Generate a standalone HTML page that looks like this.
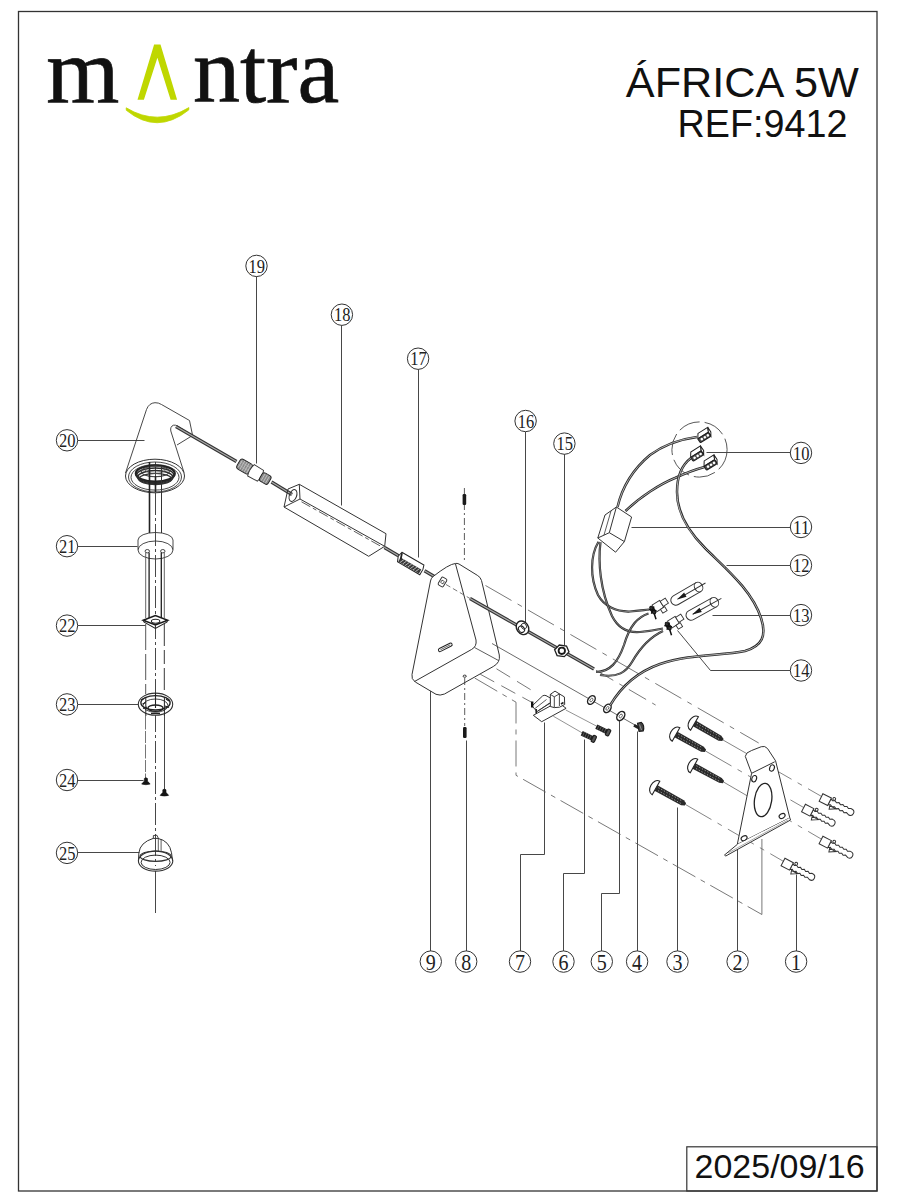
<!DOCTYPE html>
<html><head><meta charset="utf-8"><style>
html,body{margin:0;padding:0;background:#fff;width:900px;height:1200px;overflow:hidden;}
svg{position:absolute;left:0;top:0;}
</style></head><body>
<svg width="900" height="1200" viewBox="0 0 900 1200">
<rect x="18.5" y="11.5" width="858.5" height="1179.5" fill="none" stroke="#333" stroke-width="1.3"/>
<rect x="686.8" y="1146.8" width="190.2" height="44.2" fill="none" stroke="#333" stroke-width="1.2"/>
<text x="694.6" y="1177.8" font-family="Liberation Sans, sans-serif" font-size="34" fill="#111" textLength="170" lengthAdjust="spacingAndGlyphs">2025/09/16</text>
<text x="625.8" y="97" font-family="Liberation Sans, sans-serif" font-size="42.5" fill="#111" textLength="233" lengthAdjust="spacingAndGlyphs">ÁFRICA 5W</text>
<text x="677.5" y="136.5" font-family="Liberation Sans, sans-serif" font-size="38" fill="#111" textLength="170" lengthAdjust="spacingAndGlyphs">REF:9412</text>
<text x="46.2" y="102.2" font-family="Liberation Serif, serif" font-size="94" fill="#111" stroke="#111" stroke-width="0.7">m</text>
<text x="193" y="102.2" font-family="Liberation Serif, serif" font-size="94" fill="#111" stroke="#111" stroke-width="0.7">ntra</text>
<path d="M137.5 99.8 L154.1 44.6 L160.5 44.6 L177.1 99.8 L170.6 99.8 L157.4 57.7 L143.9 99.8 Z" fill="#bfd700"/>
<path d="M126.3 110.3 Q157 135.3 188.7 110 L188.9 107.6 Q157 126.6 126.2 107.8 Z" fill="#bfd700" stroke="#bfd700" stroke-width="0.8"/>
<path d="M77.5 440.5 L144.5 440.5" fill="none" stroke="#333" stroke-width="0.9"/>
<path d="M77.5 546.5 L137.5 546.5" fill="none" stroke="#333" stroke-width="0.9"/>
<path d="M77.5 625.5 L145.5 625.5" fill="none" stroke="#333" stroke-width="0.9"/>
<path d="M77.5 704.5 L138.5 704.5" fill="none" stroke="#333" stroke-width="0.9"/>
<path d="M77.5 780.5 L143.5 780.5" fill="none" stroke="#333" stroke-width="0.9"/>
<path d="M77.5 852.5 L139.5 852.5" fill="none" stroke="#333" stroke-width="0.9"/>
<path d="M256.5 275.5 L256.5 463.5" fill="none" stroke="#333" stroke-width="0.9"/>
<path d="M341.5 324.5 L341.5 505.5" fill="none" stroke="#333" stroke-width="0.9"/>
<path d="M418.5 368.5 L418.5 557.5" fill="none" stroke="#333" stroke-width="0.9"/>
<path d="M525.5 431.5 L525.5 622.5" fill="none" stroke="#333" stroke-width="0.9"/>
<path d="M564.5 453.5 L564.5 645.5" fill="none" stroke="#333" stroke-width="0.9"/>
<path d="M706.5 452.5 L791.5 452.5" fill="none" stroke="#333" stroke-width="0.9"/>
<path d="M631.5 527.5 L791.5 527.5" fill="none" stroke="#333" stroke-width="0.9"/>
<path d="M726.5 565.5 L791.5 565.5" fill="none" stroke="#333" stroke-width="0.9"/>
<path d="M712.5 615.5 L791.5 615.5" fill="none" stroke="#333" stroke-width="0.9"/>
<path d="M677.5 630.5 L710.5 670.5 L791.5 670.5" fill="none" stroke="#333" stroke-width="0.9"/>
<path d="M430.5 685.5 L430.5 951.5" fill="none" stroke="#333" stroke-width="0.9"/>
<path d="M466.5 740.5 L466.5 951.5" fill="none" stroke="#333" stroke-width="0.9"/>
<path d="M544.5 722.5 L544.5 854.5 L520.5 854.5 L520.5 951.5" fill="none" stroke="#333" stroke-width="0.9"/>
<path d="M584.5 739.5 L584.5 873.5 L563.5 873.5 L563.5 951.5" fill="none" stroke="#333" stroke-width="0.9"/>
<path d="M619.5 719.5 L619.5 893.5 L601.5 893.5 L601.5 951.5" fill="none" stroke="#333" stroke-width="0.9"/>
<path d="M637.5 731.5 L637.5 951.5" fill="none" stroke="#333" stroke-width="0.9"/>
<path d="M677.5 807.5 L677.5 951.5" fill="none" stroke="#333" stroke-width="0.9"/>
<path d="M737.5 847.5 L737.5 951.5" fill="none" stroke="#333" stroke-width="0.9"/>
<path d="M796.5 874.5 L796.5 951.5" fill="none" stroke="#333" stroke-width="0.9"/>
<path d="M155.5 462 L155.5 866" fill="none" stroke="#333" stroke-width="0.9" stroke-dasharray="22 3 3 3"/>
<path d="M155.5 871 L155.5 913" fill="none" stroke="#333" stroke-width="0.9"/>
<path d="M125.5 473 L146.5 409.5 Q149 403 155 402.7 Q158.5 402.6 161.5 404.5 L189.5 420.5 L192.5 435" fill="none" stroke="#333" stroke-width="0.9"/>
<path d="M184 472.5 L170.8 431 Q170 426.5 173.5 425.2 Q175.5 424.8 177.5 426 L192.5 435.5" fill="none" stroke="#333" stroke-width="0.9"/>
<path d="M177 445 L192.5 435.5" fill="none" stroke="#333" stroke-width="0.9"/>
<ellipse cx="155" cy="476" rx="29.5" ry="16.8" fill="none" stroke="#333" stroke-width="1"/>
<ellipse cx="155" cy="477" rx="26.5" ry="15" fill="none" stroke="#333" stroke-width="0.9"/>
<ellipse cx="155" cy="477.3" rx="24" ry="12.8" fill="none" stroke="#333" stroke-width="0.9"/>
<ellipse cx="155.3" cy="473.5" rx="19.5" ry="8" fill="none" stroke="#222" stroke-width="2.2"/>
<ellipse cx="155.3" cy="475.3" rx="18.6" ry="7.4" fill="none" stroke="#2a2a2a" stroke-width="1.5"/>
<ellipse cx="155.3" cy="477.2" rx="17.6" ry="6.6" fill="none" stroke="#2a2a2a" stroke-width="1.5"/>
<ellipse cx="155.3" cy="479" rx="16.4" ry="5.6" fill="none" stroke="#333" stroke-width="1.3"/>
<ellipse cx="155.3" cy="471.5" rx="14" ry="5.2" fill="none" stroke="#444" stroke-width="1.1"/>
<ellipse cx="155.3" cy="469.8" rx="10" ry="3.6" fill="none" stroke="#555" stroke-width="0.9"/>
<path d="M149.5 462 L149.5 533" fill="none" stroke="#222" stroke-width="1.6"/>
<path d="M161.5 466 L161.5 533" fill="none" stroke="#333" stroke-width="1"/>
<path d="M155.5 476 L155.5 492" fill="none" stroke="#222" stroke-width="1.6"/>
<path d="M138 540 A17.5 7.5 0 0 1 173 540 L173 549.5 M138 540 L138 549.5" fill="none" stroke="#333" stroke-width="0.9"/>
<ellipse cx="155.5" cy="550" rx="17.5" ry="9" fill="none" stroke="#333" stroke-width="0.9"/>
<ellipse cx="147.3" cy="551.2" rx="2.2" ry="1.7" fill="none" stroke="#333" stroke-width="0.9"/>
<ellipse cx="162.8" cy="551.2" rx="2.2" ry="1.7" fill="none" stroke="#333" stroke-width="0.9"/>
<path d="M145.7 552.5 L145.7 618" fill="none" stroke="#555" stroke-width="0.9"/>
<path d="M149.1 552.5 L149.1 618" fill="none" stroke="#1e1e1e" stroke-width="1.3"/>
<path d="M161.3 552.5 L161.3 618" fill="none" stroke="#1e1e1e" stroke-width="1.3"/>
<path d="M164.3 552.5 L164.3 618" fill="none" stroke="#555" stroke-width="0.9"/>
<path d="M143.2 620.2 L155.4 615.6 L167.7 620.2 L155.4 625 Z" fill="#fff" stroke="#1a1a1a" stroke-width="1.5"/>
<path d="M143.2 620.2 L144.2 622.2 L155.4 628.4 L166.8 622.2 L167.7 620.2" fill="none" stroke="#222" stroke-width="1.1"/>
<path d="M155.4 625 L155.4 628.4" fill="none" stroke="#333" stroke-width="0.9"/>
<ellipse cx="155.6" cy="621.3" rx="4.2" ry="2" fill="none" stroke="#222" stroke-width="1.1"/>
<path d="M145.7 624 L145.7 694" fill="none" stroke="#444" stroke-width="0.9" stroke-dasharray="26 4"/>
<path d="M164.3 624 L164.3 694" fill="none" stroke="#222" stroke-width="0.9" stroke-dasharray="22 4 14 4"/>
<ellipse cx="155.5" cy="704.2" rx="17.2" ry="11.1" fill="#fff" stroke="#333" stroke-width="1.1"/>
<ellipse cx="155.5" cy="702.8" rx="14.6" ry="7.2" fill="none" stroke="#222" stroke-width="1.4"/>
<ellipse cx="155.5" cy="705.6" rx="12.5" ry="6.6" fill="none" stroke="#333" stroke-width="0.9"/>
<ellipse cx="155.5" cy="708.2" rx="7.6" ry="3.2" fill="none" stroke="#222" stroke-width="1.4"/>
<path d="M141 700 L144 698.5 M142.5 704 L146 702.5 M143 708.5 L147 707 M166 699 L169 701 M165 706 L169 707.5 M151 713.5 L160 713.5" fill="none" stroke="#222" stroke-width="1.3"/>
<path d="M145.8 697 L145.8 716" fill="none" stroke="#222" stroke-width="1"/>
<path d="M164.4 697 L164.4 716" fill="none" stroke="#222" stroke-width="1"/>
<path d="M155.5 693 L155.5 708" fill="none" stroke="#222" stroke-width="1.1"/>
<path d="M145.5 715.5 L145.5 779" fill="none" stroke="#666" stroke-width="0.9" stroke-dasharray="14 1.5 12 1.5"/>
<path d="M164.5 715.5 L164.5 789" fill="none" stroke="#333" stroke-width="0.9"/>
<path d="M141.70000000000002 784.1 Q145.9 785.3 150.1 784.1 L148.9 782.5 L147.5 781.3 L147.5 778.5 Q145.9 776.9 144.3 778.5 L144.3 781.3 L142.9 782.5 Z" fill="#151515" stroke="#111" stroke-width="0.6"/>
<path d="M160.20000000000002 795.4 Q164.4 796.5999999999999 168.6 795.4 L167.4 793.8 L166.0 792.5999999999999 L166.0 789.8 Q164.4 788.1999999999999 162.8 789.8 L162.8 792.5999999999999 L161.4 793.8 Z" fill="#151515" stroke="#111" stroke-width="0.6"/>
<ellipse cx="155.6" cy="861.1" rx="17.2" ry="10" fill="none" stroke="#333" stroke-width="1.1"/>
<ellipse cx="155.6" cy="862.3" rx="14.5" ry="7.2" fill="none" stroke="#333" stroke-width="1"/>
<path d="M138.4 861 L138.9 852.8 Q140 842.5 153.2 838.4 L158 838.4 Q169.5 841 171.5 852.8 L172.6 861" fill="none" stroke="#333" stroke-width="1"/>
<path d="M153.3 838.6 L153.4 835.5 L157 835.3 L158.4 838.4" fill="none" stroke="#333" stroke-width="0.9"/>
<path d="M158.3 838.5 L158.3 851.5" fill="none" stroke="#333" stroke-width="0.8"/>
<path d="M161.1 839 L161.1 851.5" fill="none" stroke="#333" stroke-width="0.8"/>
<ellipse cx="155.6" cy="856.2" rx="15.5" ry="5.2" fill="none" stroke="#333" stroke-width="1.2"/>
<path d="M176 426.5 L236.5 461.5" fill="none" stroke="#333" stroke-width="3.4"/>
<path d="M176 426.5 L236.5 461.5" fill="none" stroke="#aaa" stroke-width="1.1999999999999997"/>
<path d="M271.5 482 L292 494.5" fill="none" stroke="#333" stroke-width="3.4"/>
<path d="M271.5 482 L292 494.5" fill="none" stroke="#aaa" stroke-width="1.1999999999999997"/>
<g transform="translate(254 472) rotate(30.22)" fill="none" stroke="#333" stroke-width="0.9"><rect x="-18" y="-5.6" width="14.5" height="11.2" rx="3" fill="#8a8a8a" stroke="#222"/><path d="M-16 -4 L-16 4 M-13.5 -5 L-13.5 5 M-11 -5 L-11 5 M-8.5 -5 L-8.5 5 M-6 -5 L-6 5" stroke="#ddd" stroke-width="0.6"/><path d="M-17 -2 L-4 -2 M-17 1.5 L-4 1.5" stroke="#bbb" stroke-width="0.5"/><path d="M-3.5 -6.6 L7.5 -6.2 Q9.8 0 7.5 6.2 L-3.5 6.6 Q-5.8 0 -3.5 -6.6 Z" fill="#fff"/><rect x="8" y="-4.8" width="10" height="9.6" rx="2.5" fill="#8a8a8a" stroke="#222"/><path d="M10.5 -4 L10.5 4 M13 -4.5 L13 4.5 M15.5 -4 L15.5 4" stroke="#ddd" stroke-width="0.6"/></g>
<path d="M288 489 L299.3 484.3 L300 499 L284 507 Z" fill="none" stroke="#333" stroke-width="1"/>
<path d="M299.3 484.3 L386 533.7 L384.7 546.3 L368.7 556.3 L284 507" fill="none" stroke="#333" stroke-width="1"/>
<path d="M300 499 L384.7 546.3" fill="none" stroke="#333" stroke-width="1"/>
<path d="M301.5 501.8 L383 547.5" fill="none" stroke="#333" stroke-width="0.8" stroke-dasharray="10 3 4 3"/>
<ellipse cx="293" cy="495.5" rx="3.6" ry="6.2" fill="none" stroke="#333" stroke-width="1" transform="rotate(20 293 495.5)"/>
<path d="M384.5 547.5 L398.5 555.7" fill="none" stroke="#333" stroke-width="3.4"/>
<path d="M384.5 547.5 L398.5 555.7" fill="none" stroke="#aaa" stroke-width="1.1999999999999997"/>
<g transform="translate(410.5 563.3) rotate(30.22)" fill="none" stroke="#222" stroke-width="1"><path d="M-13 -5.2 L12.5 -5.2 L13.8 -1 L13.8 5.2 L-12 5.2 L-14.2 0 Z" fill="#fff"/><path d="M-11.5 0 L12.5 0 L12.5 4.6 L-11.5 4.6 Z" fill="#3a3a3a" stroke="none"/><path d="M-9.5 4.6 L-7.5 0 M-6.5 4.6 L-4.5 0 M-3.5 4.6 L-1.5 0 M-0.5 4.6 L1.5 0 M2.5 4.6 L4.5 0 M5.5 4.6 L7.5 0 M8.5 4.6 L10.5 0" stroke="#c8c8c8" stroke-width="0.8"/><path d="M-12.5 -4.5 L-10.5 1.5" stroke-width="1.8"/></g>
<path d="M424.5 570.8 L436 577.5" fill="none" stroke="#333" stroke-width="3.4"/>
<path d="M424.5 570.8 L436 577.5" fill="none" stroke="#aaa" stroke-width="1.1999999999999997"/>
<path d="M455.3 563.5 Q449 564 432.5 577 Q431 578.5 430.5 581 L412 674.5 Q411 679 415.3 682 L436 694.3 Q440 696 444.5 694 L493.3 666.5 Q500.5 662.5 499.3 655 L481.5 580.5 Q480.5 577 477.3 575.3 L459 564 Q457 563 455.3 563.5 Z" fill="#fff" stroke="#333" stroke-width="1"/>
<path d="M455.5 564 L476 640 Q477 646.5 471.5 649.5 L414.5 681.5" fill="none" stroke="#333" stroke-width="1"/>
<path d="M474.5 647.5 L498.5 660.5" fill="none" stroke="#333" stroke-width="0.8"/>
<g transform="translate(445.3 647.3) rotate(-27)"><rect x="-7.5" y="-1.6" width="15" height="3.2" rx="1.6" fill="#fff" stroke="#222" stroke-width="1"/><line x1="-5.5" y1="0" x2="5.5" y2="0" stroke="#555" stroke-width="0.8"/></g>
<ellipse cx="464.7" cy="676.2" rx="1.6" ry="1.1" fill="none" stroke="#222" stroke-width="0.9"/>
<path d="M446 584.5 L470 598.5" fill="none" stroke="#555" stroke-width="0.8" stroke-dasharray="5 3"/>
<g transform="translate(442.5 582) rotate(30.22)"><rect x="-3" y="-4.5" width="6" height="9" rx="1.5" fill="#fff" stroke="#333" stroke-width="1"/><circle cx="0" cy="0" r="1.6" fill="none" stroke="#333" stroke-width="0.8"/></g>
<path d="M464.4 488 L464.4 563" fill="none" stroke="#333" stroke-width="0.8" stroke-dasharray="7 3 2 3"/>
<rect x="462.6" y="494" width="3.6" height="11" rx="1.2" fill="#1a1a1a"/>
<path d="M464.7 678 L464.7 726" fill="none" stroke="#333" stroke-width="0.8" stroke-dasharray="7 3 2 3"/>
<rect x="463" y="727" width="3.6" height="11" rx="1.2" fill="#1a1a1a"/>
<path d="M470 598.5 L594 669" fill="none" stroke="#333" stroke-width="3.4"/>
<path d="M470 598.5 L594 669" fill="none" stroke="#aaa" stroke-width="1.1999999999999997"/>
<ellipse cx="522.5" cy="627.8" rx="5.8" ry="7.2" fill="#fff" stroke="#222" stroke-width="1.4" transform="rotate(-35 522.5 627.8)"/>
<ellipse cx="521.5" cy="629.2" rx="2.8" ry="3.4" fill="none" stroke="#222" stroke-width="1.1" transform="rotate(-35 521.5 629.2)"/>
<ellipse cx="523.8" cy="626.2" rx="2.6" ry="3" fill="none" stroke="#333" stroke-width="0.9" transform="rotate(-35 523.8 626.2)"/>
<path d="M569 651.9 L564.3 656.6 L557.1 655.6 L554.6 649.7 L559.3 645 L566.5 646 Z" fill="#fff" stroke="#222" stroke-width="1.3"/>
<ellipse cx="561.8" cy="650.8" rx="3.2" ry="3.2" fill="none" stroke="#1a1a1a" stroke-width="1.8"/>
<path d="M485.5 585.5 L758.7 743" fill="none" stroke="#555" stroke-width="0.8" stroke-dasharray="30 7 5 7"/>
<path d="M596 670.3 L660 707.6" fill="none" stroke="#555" stroke-width="0.8" stroke-dasharray="20 7 4 7"/>
<path d="M492 643.5 L639 727.3" fill="none" stroke="#444" stroke-width="0.8"/>
<path d="M496.5 668.8 L534.6 692.1" fill="none" stroke="#555" stroke-width="0.8" stroke-dasharray="16 8"/>
<path d="M480.2 674.2 L531.5 702.2" fill="none" stroke="#555" stroke-width="0.8" stroke-dasharray="16 8"/>
<path d="M474.8 678.1 L516 702.2 L516 775.3 L761.9 914.5" fill="none" stroke="#555" stroke-width="0.8" stroke-dasharray="26 6 5 6"/>
<path d="M761.9 914.5 L761.9 839" fill="none" stroke="#555" stroke-width="0.8"/>
<path d="M553.3 716.2 L582.9 733.3" fill="none" stroke="#666" stroke-width="0.7"/>
<path d="M565.8 710 L596.9 726.3" fill="none" stroke="#666" stroke-width="0.7"/>
<path d="M533.3 715.3 L541.7 721.7 L566.1 708.3 L557.7 702 Z" fill="#fff" stroke="#333" stroke-width="1"/>
<path d="M550.3 706.5 L550.3 694.4 L555 691.1 L559.4 693.9 L564.4 696.9 L564.7 704.5 L559.5 707.2 L554.3 707.6 Z" fill="#fff" stroke="#333" stroke-width="1"/>
<path d="M550.3 694.4 L554.3 696.8 L559.4 693.9 M554.3 696.8 L554.3 707.4 M559.4 693.9 L559.4 706" fill="none" stroke="#333" stroke-width="0.9"/>
<path d="M532 706 L542.5 696 Q544 694.8 546 695.6 L550.3 698 L550.3 703 L537 711.5 Z" fill="#fff" stroke="#333" stroke-width="1"/>
<path d="M535 708.5 L546.5 699.5 M538 711 L549.5 703" fill="none" stroke="#333" stroke-width="0.8"/>
<path d="M532.2 701.5 L532.2 707.5" fill="none" stroke="#111" stroke-width="2.4"/>
<path d="M536.2 709 L536.2 713.5" fill="none" stroke="#222" stroke-width="1.6"/>
<path d="M561 704 L563.5 702.5" fill="none" stroke="#222" stroke-width="1.6"/>
<g transform="translate(596.3 726.7) rotate(26.2)"><rect x="0" y="-2.4" width="12.4" height="4.8" fill="#1e1e1e"/><path d="M2 -2.4 L2 2.4 M4.5 -2.4 L4.5 2.4 M7 -2.4 L7 2.4 M9.5 -2.4 L9.5 2.4" stroke="#777" stroke-width="0.6"/><rect x="11.4" y="-3.4" width="3.5" height="6.8" rx="1.2" fill="#555" stroke="#1e1e1e" stroke-width="1.2"/></g>
<g transform="translate(581.7 733.3) rotate(24.7)"><rect x="0" y="-2.4" width="12.6" height="4.8" fill="#1e1e1e"/><path d="M2 -2.4 L2 2.4 M4.5 -2.4 L4.5 2.4 M7 -2.4 L7 2.4 M9.5 -2.4 L9.5 2.4" stroke="#777" stroke-width="0.6"/><rect x="11.6" y="-3.4" width="3.5" height="6.8" rx="1.2" fill="#555" stroke="#1e1e1e" stroke-width="1.2"/></g>
<ellipse cx="591.4" cy="700" rx="3.2" ry="4.8" fill="#fff" stroke="#222" stroke-width="1.5" transform="rotate(35 591.4 700)"/>
<ellipse cx="591.4" cy="700" rx="1.2" ry="2" fill="none" stroke="#333" stroke-width="0.7" transform="rotate(35 591.4 700)"/>
<ellipse cx="607.4" cy="708.4" rx="3.2" ry="4.6" fill="#fff" stroke="#222" stroke-width="1.5" transform="rotate(35 607.4 708.4)"/>
<ellipse cx="607.4" cy="708.4" rx="1.2" ry="2" fill="none" stroke="#333" stroke-width="0.7" transform="rotate(35 607.4 708.4)"/>
<ellipse cx="620.8" cy="716" rx="3.4" ry="5" fill="#fff" stroke="#222" stroke-width="1.5" transform="rotate(35 620.8 716)"/>
<ellipse cx="620.8" cy="716" rx="1.3" ry="2.1" fill="none" stroke="#333" stroke-width="0.7" transform="rotate(35 620.8 716)"/>
<path d="M634 725.2 L638.5 727.8" fill="none" stroke="#222" stroke-width="3"/>
<path d="M637.5 723.2 L641.3 722.3 Q645 725.5 643.2 731 L639 731.5 Z" fill="#444" stroke="#1a1a1a" stroke-width="1.1"/>
<path d="M639.5 724.5 L641.5 730" fill="none" stroke="#aaa" stroke-width="0.8"/>
<circle cx="699.5" cy="449.5" r="27.6" fill="none" stroke="#444" stroke-width="0.9" stroke-dasharray="22 5"/>
<path d="M617.5 507 C622 488 632 470 650 455 C665 444 682 439 697 437" fill="none" stroke="#282828" stroke-width="2.5"/>
<path d="M617.5 507 C622 488 632 470 650 455 C665 444 682 439 697 437" fill="none" stroke="#d4d4d4" stroke-width="0.8"/>
<path d="M625.5 511 C640 497 660 484 675 478 C688 472 697 469 704.5 467" fill="none" stroke="#282828" stroke-width="2.5"/>
<path d="M625.5 511 C640 497 660 484 675 478 C688 472 697 469 704.5 467" fill="none" stroke="#d4d4d4" stroke-width="0.8"/>
<path d="M691 458 C683 464 677 475 677 492 C677 510 685 528 705 548 C725 568 752 590 761 618 C767 636 762 646 745 651 C720 656 690 654 660 664 C640 671 622 685 610 705.5" fill="none" stroke="#282828" stroke-width="2.5"/>
<path d="M691 458 C683 464 677 475 677 492 C677 510 685 528 705 548 C725 568 752 590 761 618 C767 636 762 646 745 651 C720 656 690 654 660 664 C640 671 622 685 610 705.5" fill="none" stroke="#d4d4d4" stroke-width="0.8"/>
<g transform="translate(703.6 435.8) rotate(-32)" stroke="#1e1e1e" stroke-width="1"><path d="M-6.5 -0.5 L-3.5 -5 L8 -5 L6 -0.5 Z" fill="#fff"/><path d="M6 -0.5 L8 -5 L8.2 0.5 L6 4.2 Z" fill="#fff"/><rect x="-6.5" y="-0.5" width="12.5" height="4.7" rx="1" fill="#4a4a4a"/><circle cx="-3.3" cy="1.9" r="1.3" fill="#fff" stroke="none"/><circle cx="0.3" cy="1.9" r="1.3" fill="#fff" stroke="none"/><circle cx="3.8" cy="1.9" r="1.3" fill="#fff" stroke="none"/></g>
<g transform="translate(696.4 454.4) rotate(-32)" stroke="#1e1e1e" stroke-width="1"><path d="M-6.5 -0.5 L-3.5 -5 L8 -5 L6 -0.5 Z" fill="#fff"/><path d="M6 -0.5 L8 -5 L8.2 0.5 L6 4.2 Z" fill="#fff"/><rect x="-6.5" y="-0.5" width="12.5" height="4.7" rx="1" fill="#4a4a4a"/><circle cx="-3.3" cy="1.9" r="1.3" fill="#fff" stroke="none"/><circle cx="0.3" cy="1.9" r="1.3" fill="#fff" stroke="none"/><circle cx="3.8" cy="1.9" r="1.3" fill="#fff" stroke="none"/></g>
<g transform="translate(709.8 463.3) rotate(-32)" stroke="#1e1e1e" stroke-width="1"><path d="M-6.5 -0.5 L-3.5 -5 L8 -5 L6 -0.5 Z" fill="#fff"/><path d="M6 -0.5 L8 -5 L8.2 0.5 L6 4.2 Z" fill="#fff"/><rect x="-6.5" y="-0.5" width="12.5" height="4.7" rx="1" fill="#4a4a4a"/><circle cx="-3.3" cy="1.9" r="1.3" fill="#fff" stroke="none"/><circle cx="0.3" cy="1.9" r="1.3" fill="#fff" stroke="none"/><circle cx="3.8" cy="1.9" r="1.3" fill="#fff" stroke="none"/></g>
<path d="M605 515 L616.4 507 L631.6 517 L624.4 541.6 L615.6 552.2 L597.8 538 Z" fill="#fff" stroke="#333" stroke-width="1"/>
<path d="M616.4 507 L609.3 532.7 L597.8 538" fill="none" stroke="#333" stroke-width="1"/>
<path d="M609.3 532.7 L624.4 541.6" fill="none" stroke="#333" stroke-width="1"/>
<path d="M611 511 L604 535" fill="none" stroke="#333" stroke-width="0.8"/>
<path d="M598.5 541.8 C590 556 590 578 598 595 C604 606 616 612 630 611.5 C638 611 644 610 649 609.5" fill="none" stroke="#282828" stroke-width="2.2"/>
<path d="M598.5 541.8 C590 556 590 578 598 595 C604 606 616 612 630 611.5 C638 611 644 610 649 609.5" fill="none" stroke="#d4d4d4" stroke-width="0.5000000000000002"/>
<path d="M600.5 542 C598 562 600 590 612 616 C618 628 628 633 640 632 C650 631 656 630 663 628.5" fill="none" stroke="#282828" stroke-width="2.2"/>
<path d="M600.5 542 C598 562 600 590 612 616 C618 628 628 633 640 632 C650 631 656 630 663 628.5" fill="none" stroke="#d4d4d4" stroke-width="0.5000000000000002"/>
<path d="M648.5 613.5 C638 617 630 625 624 645 C618 662 610 672 596 672" fill="none" stroke="#282828" stroke-width="2.2"/>
<path d="M648.5 613.5 C638 617 630 625 624 645 C618 662 610 672 596 672" fill="none" stroke="#d4d4d4" stroke-width="0.5000000000000002"/>
<path d="M663 631 C650 637 640 648 632 662 C626 672 618 678 600 675" fill="none" stroke="#282828" stroke-width="2.2"/>
<path d="M663 631 C650 637 640 648 632 662 C626 672 618 678 600 675" fill="none" stroke="#d4d4d4" stroke-width="0.5000000000000002"/>
<g transform="translate(657.5 606.5) rotate(-32)"><rect x="-4" y="-4" width="9" height="8" fill="#fff" stroke="#333" stroke-width="0.9"/><rect x="5" y="-3" width="6" height="6" fill="#fff" stroke="#333" stroke-width="0.9"/><rect x="1" y="4" width="5" height="4.5" fill="#fff" stroke="#333" stroke-width="0.9"/><ellipse cx="-6" cy="0.5" rx="1.8" ry="4.4" fill="#333" stroke="#111" stroke-width="1"/><path d="M-9 -2 L-3 3 M-9 3 L-3 -2 M-6.5 4 L-8 10" stroke="#111" stroke-width="1.5" fill="none"/></g>
<g transform="translate(673 622.5) rotate(-32)"><rect x="-4" y="-4" width="9" height="8" fill="#fff" stroke="#333" stroke-width="0.9"/><rect x="5" y="-3" width="6" height="6" fill="#fff" stroke="#333" stroke-width="0.9"/><rect x="1" y="4" width="5" height="4.5" fill="#fff" stroke="#333" stroke-width="0.9"/><ellipse cx="-6" cy="0.5" rx="1.8" ry="4.4" fill="#333" stroke="#111" stroke-width="1"/><path d="M-9 -2 L-3 3 M-9 3 L-3 -2 M-6.5 4 L-8 10" stroke="#111" stroke-width="1.5" fill="none"/></g>
<g transform="translate(675.8 600.2) rotate(-30.1)" fill="none" stroke="#333" stroke-width="1"><path d="M26.3 -5 L0 -5 A5 5 0 0 0 0 5 L26.3 5" fill="#fff"/><ellipse cx="26.3" cy="0" rx="4.0" ry="5" fill="#fff"/><path d="M34.3 0 L2 0" stroke-width="0.9"/><path d="M1.5 0 L11 -2.4 L11 2.4 Z" fill="#1a1a1a" stroke="none"/></g>
<g transform="translate(691.0 615.2) rotate(-28.9)" fill="none" stroke="#333" stroke-width="1"><path d="M26.7 -5 L0 -5 A5 5 0 0 0 0 5 L26.7 5" fill="#fff"/><ellipse cx="26.7" cy="0" rx="4.0" ry="5" fill="#fff"/><path d="M34.7 0 L2 0" stroke-width="0.9"/><path d="M1.5 0 L11 -2.4 L11 2.4 Z" fill="#1a1a1a" stroke="none"/></g>
<path d="M723 740 L826 799" fill="none" stroke="#666" stroke-width="0.8" stroke-dasharray="30 7 5 7"/>
<path d="M705.5 751 L808 810" fill="none" stroke="#666" stroke-width="0.8" stroke-dasharray="30 7 5 7"/>
<path d="M723.5 782 L826 841.8" fill="none" stroke="#666" stroke-width="0.8" stroke-dasharray="30 7 5 7"/>
<path d="M685.5 804.5 L788 864" fill="none" stroke="#666" stroke-width="0.8" stroke-dasharray="30 7 5 7"/>
<g transform="translate(694.5 723.5) rotate(30.1)"><path d="M0 -7.8 C-7.7 -7.8 -7.7 7.8 0 7.8 Z" fill="#fff" stroke="#222" stroke-width="1.1"/><path d="M0 -3.1 L29.4 -2.8000000000000003 L32.9 -1.3 L32.9 1.3 L29.4 2.8000000000000003 L0 3.1 Z" fill="#2a2a2a"/><path d="M2 -1.4 L28.9 -1.4 M3 1.3 L28.9 1.3" stroke="#aaa" stroke-width="0.8" stroke-dasharray="1.3 1.8"/></g>
<g transform="translate(676.0 734.5) rotate(29.2)"><path d="M0 -7.8 C-7.7 -7.8 -7.7 7.8 0 7.8 Z" fill="#fff" stroke="#222" stroke-width="1.1"/><path d="M0 -3.1 L30.3 -2.8000000000000003 L33.8 -1.3 L33.8 1.3 L30.3 2.8000000000000003 L0 3.1 Z" fill="#2a2a2a"/><path d="M2 -1.4 L29.8 -1.4 M3 1.3 L29.8 1.3" stroke="#aaa" stroke-width="0.8" stroke-dasharray="1.3 1.8"/></g>
<g transform="translate(694.0 766.0) rotate(28.5)"><path d="M0 -7.8 C-7.7 -7.8 -7.7 7.8 0 7.8 Z" fill="#fff" stroke="#222" stroke-width="1.1"/><path d="M0 -3.1 L30.1 -2.8000000000000003 L33.6 -1.3 L33.6 1.3 L30.1 2.8000000000000003 L0 3.1 Z" fill="#2a2a2a"/><path d="M2 -1.4 L29.6 -1.4 M3 1.3 L29.6 1.3" stroke="#aaa" stroke-width="0.8" stroke-dasharray="1.3 1.8"/></g>
<g transform="translate(656.0 788.0) rotate(29.2)"><path d="M0 -7.8 C-7.7 -7.8 -7.7 7.8 0 7.8 Z" fill="#fff" stroke="#222" stroke-width="1.1"/><path d="M0 -3.1 L30.3 -2.8000000000000003 L33.8 -1.3 L33.8 1.3 L30.3 2.8000000000000003 L0 3.1 Z" fill="#2a2a2a"/><path d="M2 -1.4 L29.8 -1.4 M3 1.3 L29.8 1.3" stroke="#aaa" stroke-width="0.8" stroke-dasharray="1.3 1.8"/></g>
<path d="M745.3 756.4 Q745.5 752.5 751.6 750.5 L761.3 746.7 Q765 745.5 767.5 748.5 L775.6 760.9 L789.8 817.8 L737.3 844.4 L751.6 773.3 Z" fill="#fff" stroke="#333" stroke-width="1"/>
<path d="M751.6 773.3 L774.7 761.8" fill="none" stroke="#333" stroke-width="1"/>
<path d="M789.8 817.8 L790.5 820 L725.8 856 L724.5 855 L737.3 844.4" fill="#fff" stroke="#333" stroke-width="1"/>
<path d="M788 820 L728 853" fill="none" stroke="#777" stroke-width="0.6"/>
<ellipse cx="763.1" cy="800" rx="8.6" ry="16.8" fill="none" stroke="#222" stroke-width="1.3" transform="rotate(8 763.1 800)"/>
<ellipse cx="754.2" cy="778.7" rx="2.3" ry="3.3" fill="none" stroke="#222" stroke-width="1.1" transform="rotate(20 754.2 778.7)"/>
<ellipse cx="772" cy="768" rx="2.3" ry="3.3" fill="none" stroke="#222" stroke-width="1.1" transform="rotate(20 772 768)"/>
<ellipse cx="782.1" cy="816" rx="3.2" ry="2.2" fill="none" stroke="#222" stroke-width="1.1" transform="rotate(-30 782.1 816)"/>
<ellipse cx="744.1" cy="838.2" rx="3.2" ry="2.2" fill="none" stroke="#222" stroke-width="1.1" transform="rotate(-30 744.1 838.2)"/>
<g transform="translate(821.0 797.5) rotate(26.3)" fill="#fff" stroke="#333" stroke-width="1"><path d="M9.5 -3.2 L11.7 -2.2 L13.9 -3.4 L16.2 -2.2 L18.4 -3.4 L20.6 -2.2 L22.8 -3.4 L25.0 -2.2 L27.3 -3.4 L29.5 -2.2 L31.7 -3.4 L32.7 -3.4 Q36.2 -3.4 36.2 0 Q36.2 3.4 32.7 3.4 L29.5 2.2 L27.3 3.4 L25.0 2.2 L22.8 3.4 L20.6 2.2 L18.4 3.4 L16.2 2.2 L13.9 3.4 L11.7 2.2 L9.5 3.4 Z"/><rect x="0" y="-4.2" width="9.5" height="8.4"/><path d="M11.5 3.5 L18.5 3.5 L12.5 7 Z" fill="#fff"/><circle cx="12.5" cy="-4.6" r="1.4"/></g>
<g transform="translate(803.5 808.0) rotate(27.5)" fill="#fff" stroke="#333" stroke-width="1"><path d="M9.5 -3.2 L11.6 -2.2 L13.7 -3.4 L15.8 -2.2 L17.9 -3.4 L20.1 -2.2 L22.2 -3.4 L24.3 -2.2 L26.4 -3.4 L28.5 -2.2 L30.6 -3.4 L31.6 -3.4 Q35.1 -3.4 35.1 0 Q35.1 3.4 31.6 3.4 L28.5 2.2 L26.4 3.4 L24.3 2.2 L22.2 3.4 L20.1 2.2 L17.9 3.4 L15.8 2.2 L13.7 3.4 L11.6 2.2 L9.5 3.4 Z"/><rect x="0" y="-4.2" width="9.5" height="8.4"/><path d="M11.5 3.5 L18.5 3.5 L12.5 7 Z" fill="#fff"/><circle cx="12.5" cy="-4.6" r="1.4"/></g>
<g transform="translate(821.0 840.0) rotate(27.3)" fill="#fff" stroke="#333" stroke-width="1"><path d="M9.5 -3.2 L11.6 -2.2 L13.8 -3.4 L15.9 -2.2 L18.1 -3.4 L20.2 -2.2 L22.3 -3.4 L24.5 -2.2 L26.6 -3.4 L28.7 -2.2 L30.9 -3.4 L31.9 -3.4 Q35.4 -3.4 35.4 0 Q35.4 3.4 31.9 3.4 L28.7 2.2 L26.6 3.4 L24.5 2.2 L22.3 3.4 L20.2 2.2 L18.1 3.4 L15.9 2.2 L13.8 3.4 L11.6 2.2 L9.5 3.4 Z"/><rect x="0" y="-4.2" width="9.5" height="8.4"/><path d="M11.5 3.5 L18.5 3.5 L12.5 7 Z" fill="#fff"/><circle cx="12.5" cy="-4.6" r="1.4"/></g>
<g transform="translate(783.0 862.0) rotate(27.7)" fill="#fff" stroke="#333" stroke-width="1"><path d="M9.5 -3.2 L11.6 -2.2 L13.8 -3.4 L15.9 -2.2 L18.0 -3.4 L20.2 -2.2 L22.3 -3.4 L24.4 -2.2 L26.5 -3.4 L28.7 -2.2 L30.8 -3.4 L31.8 -3.4 Q35.3 -3.4 35.3 0 Q35.3 3.4 31.8 3.4 L28.7 2.2 L26.5 3.4 L24.4 2.2 L22.3 3.4 L20.2 2.2 L18.0 3.4 L15.9 2.2 L13.8 3.4 L11.6 2.2 L9.5 3.4 Z"/><rect x="0" y="-4.2" width="9.5" height="8.4"/><path d="M11.5 3.5 L18.5 3.5 L12.5 7 Z" fill="#fff"/><circle cx="12.5" cy="-4.6" r="1.4"/></g>
<circle cx="67" cy="440.3" r="10.7" fill="#fff" stroke="#333" stroke-width="1"/>
<text x="67.3" y="446.90000000000003" font-family="Liberation Serif, serif" font-size="19.5" fill="#222" text-anchor="middle" textLength="16.5" lengthAdjust="spacingAndGlyphs">20</text>
<circle cx="67" cy="546.2" r="10.7" fill="#fff" stroke="#333" stroke-width="1"/>
<text x="67.3" y="552.8000000000001" font-family="Liberation Serif, serif" font-size="19.5" fill="#222" text-anchor="middle" textLength="16.5" lengthAdjust="spacingAndGlyphs">21</text>
<circle cx="67" cy="625.6" r="10.7" fill="#fff" stroke="#333" stroke-width="1"/>
<text x="67.3" y="632.2" font-family="Liberation Serif, serif" font-size="19.5" fill="#222" text-anchor="middle" textLength="16.5" lengthAdjust="spacingAndGlyphs">22</text>
<circle cx="67" cy="704.4" r="10.7" fill="#fff" stroke="#333" stroke-width="1"/>
<text x="67.3" y="711.0" font-family="Liberation Serif, serif" font-size="19.5" fill="#222" text-anchor="middle" textLength="16.5" lengthAdjust="spacingAndGlyphs">23</text>
<circle cx="67" cy="780" r="10.7" fill="#fff" stroke="#333" stroke-width="1"/>
<text x="67.3" y="786.6" font-family="Liberation Serif, serif" font-size="19.5" fill="#222" text-anchor="middle" textLength="16.5" lengthAdjust="spacingAndGlyphs">24</text>
<circle cx="67" cy="852.9" r="10.7" fill="#fff" stroke="#333" stroke-width="1"/>
<text x="67.3" y="859.5" font-family="Liberation Serif, serif" font-size="19.5" fill="#222" text-anchor="middle" textLength="16.5" lengthAdjust="spacingAndGlyphs">25</text>
<circle cx="256.5" cy="265.9" r="10.7" fill="#fff" stroke="#333" stroke-width="1"/>
<text x="256.8" y="272.5" font-family="Liberation Serif, serif" font-size="19.5" fill="#222" text-anchor="middle" textLength="16.5" lengthAdjust="spacingAndGlyphs">19</text>
<circle cx="341.9" cy="314.7" r="10.7" fill="#fff" stroke="#333" stroke-width="1"/>
<text x="342.2" y="321.3" font-family="Liberation Serif, serif" font-size="19.5" fill="#222" text-anchor="middle" textLength="16.5" lengthAdjust="spacingAndGlyphs">18</text>
<circle cx="418.1" cy="358.7" r="10.7" fill="#fff" stroke="#333" stroke-width="1"/>
<text x="418.40000000000003" y="365.3" font-family="Liberation Serif, serif" font-size="19.5" fill="#222" text-anchor="middle" textLength="16.5" lengthAdjust="spacingAndGlyphs">17</text>
<circle cx="525.6" cy="421" r="10.7" fill="#fff" stroke="#333" stroke-width="1"/>
<text x="525.9" y="427.6" font-family="Liberation Serif, serif" font-size="19.5" fill="#222" text-anchor="middle" textLength="16.5" lengthAdjust="spacingAndGlyphs">16</text>
<circle cx="564.4" cy="443.6" r="10.7" fill="#fff" stroke="#333" stroke-width="1"/>
<text x="564.6999999999999" y="450.20000000000005" font-family="Liberation Serif, serif" font-size="19.5" fill="#222" text-anchor="middle" textLength="16.5" lengthAdjust="spacingAndGlyphs">15</text>
<circle cx="801" cy="452.9" r="10.7" fill="#fff" stroke="#333" stroke-width="1"/>
<text x="801.3" y="459.5" font-family="Liberation Serif, serif" font-size="19.5" fill="#222" text-anchor="middle" textLength="16.5" lengthAdjust="spacingAndGlyphs">10</text>
<circle cx="801" cy="527" r="10.7" fill="#fff" stroke="#333" stroke-width="1"/>
<text x="801.3" y="533.6" font-family="Liberation Serif, serif" font-size="19.5" fill="#222" text-anchor="middle" textLength="16.5" lengthAdjust="spacingAndGlyphs">11</text>
<circle cx="801" cy="565.3" r="10.7" fill="#fff" stroke="#333" stroke-width="1"/>
<text x="801.3" y="571.9" font-family="Liberation Serif, serif" font-size="19.5" fill="#222" text-anchor="middle" textLength="16.5" lengthAdjust="spacingAndGlyphs">12</text>
<circle cx="801" cy="615.1" r="10.7" fill="#fff" stroke="#333" stroke-width="1"/>
<text x="801.3" y="621.7" font-family="Liberation Serif, serif" font-size="19.5" fill="#222" text-anchor="middle" textLength="16.5" lengthAdjust="spacingAndGlyphs">13</text>
<circle cx="801" cy="670.5" r="10.7" fill="#fff" stroke="#333" stroke-width="1"/>
<text x="801.3" y="677.1" font-family="Liberation Serif, serif" font-size="19.5" fill="#222" text-anchor="middle" textLength="16.5" lengthAdjust="spacingAndGlyphs">14</text>
<circle cx="430.8" cy="961.6" r="10.7" fill="#fff" stroke="#333" stroke-width="1"/>
<text x="430.8" y="970.0" font-family="Liberation Serif, serif" font-size="22.5" fill="#222" text-anchor="middle" textLength="10" lengthAdjust="spacingAndGlyphs">9</text>
<circle cx="466.2" cy="961.6" r="10.7" fill="#fff" stroke="#333" stroke-width="1"/>
<text x="466.2" y="970.0" font-family="Liberation Serif, serif" font-size="22.5" fill="#222" text-anchor="middle" textLength="10" lengthAdjust="spacingAndGlyphs">8</text>
<circle cx="520" cy="961.6" r="10.7" fill="#fff" stroke="#333" stroke-width="1"/>
<text x="520" y="970.0" font-family="Liberation Serif, serif" font-size="22.5" fill="#222" text-anchor="middle" textLength="10" lengthAdjust="spacingAndGlyphs">7</text>
<circle cx="563.5" cy="961.6" r="10.7" fill="#fff" stroke="#333" stroke-width="1"/>
<text x="563.5" y="970.0" font-family="Liberation Serif, serif" font-size="22.5" fill="#222" text-anchor="middle" textLength="10" lengthAdjust="spacingAndGlyphs">6</text>
<circle cx="601.8" cy="961.6" r="10.7" fill="#fff" stroke="#333" stroke-width="1"/>
<text x="601.8" y="970.0" font-family="Liberation Serif, serif" font-size="22.5" fill="#222" text-anchor="middle" textLength="10" lengthAdjust="spacingAndGlyphs">5</text>
<circle cx="637.1" cy="961.6" r="10.7" fill="#fff" stroke="#333" stroke-width="1"/>
<text x="637.1" y="970.0" font-family="Liberation Serif, serif" font-size="22.5" fill="#222" text-anchor="middle" textLength="10" lengthAdjust="spacingAndGlyphs">4</text>
<circle cx="677.5" cy="961.6" r="10.7" fill="#fff" stroke="#333" stroke-width="1"/>
<text x="677.5" y="970.0" font-family="Liberation Serif, serif" font-size="22.5" fill="#222" text-anchor="middle" textLength="10" lengthAdjust="spacingAndGlyphs">3</text>
<circle cx="737.6" cy="961.6" r="10.7" fill="#fff" stroke="#333" stroke-width="1"/>
<text x="737.6" y="970.0" font-family="Liberation Serif, serif" font-size="22.5" fill="#222" text-anchor="middle" textLength="10" lengthAdjust="spacingAndGlyphs">2</text>
<circle cx="796.1" cy="961.6" r="10.7" fill="#fff" stroke="#333" stroke-width="1"/>
<text x="796.1" y="970.0" font-family="Liberation Serif, serif" font-size="22.5" fill="#222" text-anchor="middle" textLength="10" lengthAdjust="spacingAndGlyphs">1</text>
</svg>
</body></html>
